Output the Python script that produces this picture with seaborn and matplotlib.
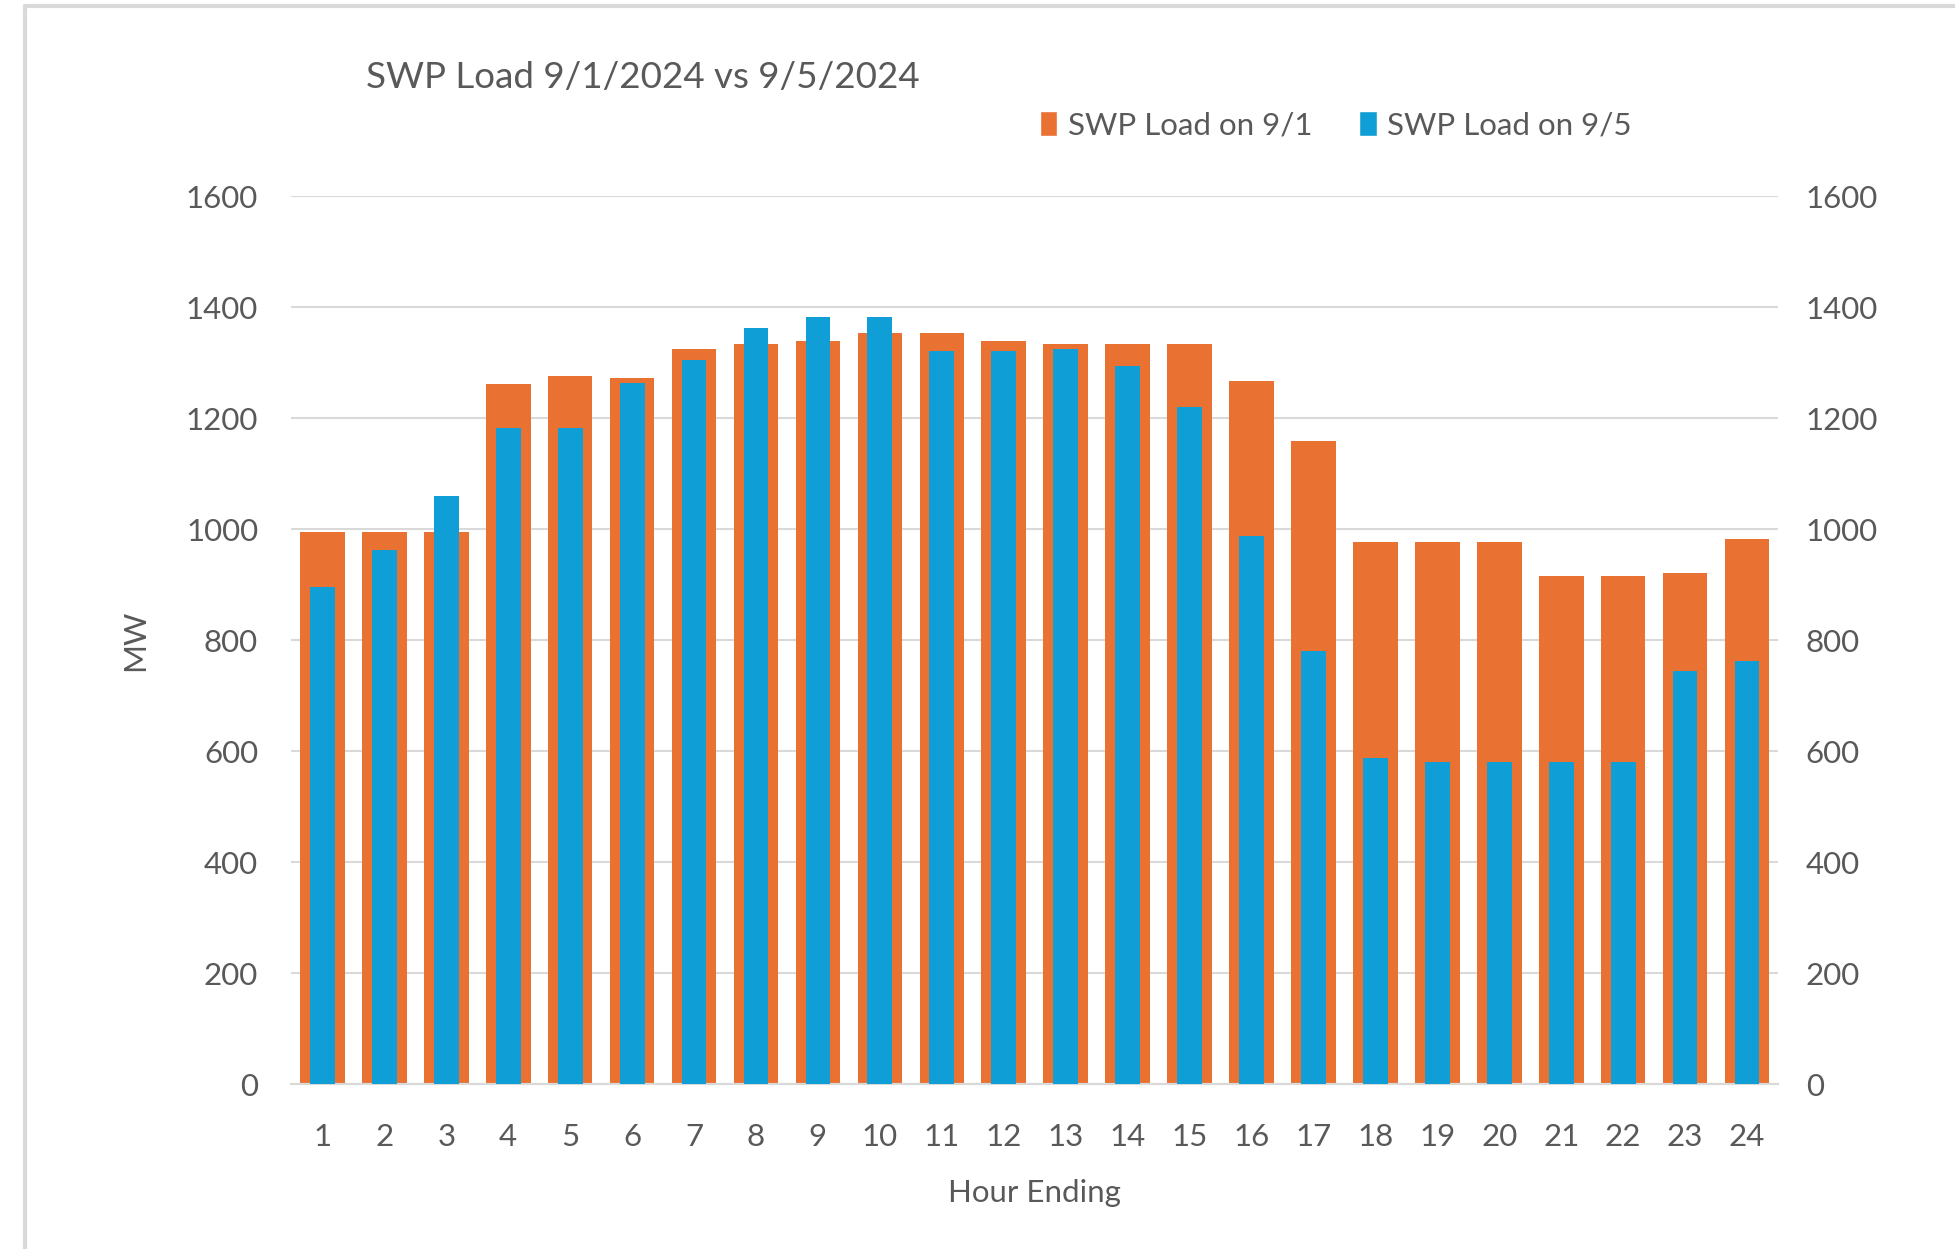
"""SWP load by hour ending, 9/1/2024 vs 9/5/2024 (overlapped bars, Excel style)."""

import matplotlib.pyplot as plt
from matplotlib.lines import Line2D
from matplotlib.patches import Rectangle
import seaborn as sns

# ── Data ─────────────────────────────────────────────────────────────────────

HOURS = [str(h) for h in range(1, 25)]
LOAD_SEP1 = [994, 994, 994, 1261, 1275, 1272, 1324, 1333, 1339, 1354, 1354, 1339,
             1333, 1333, 1333, 1267, 1159, 976, 976, 976, 916, 916, 921, 983]
LOAD_SEP5 = [895, 962, 1060, 1183, 1183, 1264, 1304, 1362, 1383, 1383, 1321, 1321,
             1325, 1293, 1220, 988, 780, 587, 581, 581, 581, 581, 744, 762]
Y_TICKS = [0, 200, 400, 600, 800, 1000, 1200, 1400, 1600]

SERIES_1 = "SWP Load on 9/1"
SERIES_5 = "SWP Load on 9/5"
TITLE = "SWP Load 9/1/2024 vs 9/5/2024"

ORANGE = "#E97132"
BLUE = "#0F9ED5"
GRID = "#D9D9D9"
TEXT = "#595959"

# ── Figure ───────────────────────────────────────────────────────────────────

sns.set_style("white")
plt.rcParams["font.family"] = ["Lato", "DejaVu Sans"]

fig = plt.figure(figsize=(19.56, 12.49), dpi=100)
ax = fig.add_axes([0.149, 0.132, 0.760, 0.711])

# 9/1 on the primary axis (wide bars), 9/5 on the secondary axis (narrow bars)
sns.barplot(x=HOURS, y=LOAD_SEP1, color=ORANGE, width=0.72, saturation=1,
            linewidth=0, ax=ax, zorder=2)
ax2 = ax.twinx()
sns.barplot(x=HOURS, y=LOAD_SEP5, color=BLUE, width=0.40, saturation=1,
            linewidth=0, ax=ax2, zorder=3)

for a in (ax, ax2):
    a.set_ylim(0, 1600)
    a.set_yticks(Y_TICKS)
    a.set_yticklabels([str(t) for t in Y_TICKS])
    a.set_xlim(-0.5, len(HOURS) - 0.5)
    for side in ("top", "left", "right"):
        a.spines[side].set_visible(False)
    a.spines["bottom"].set_color(GRID)
    a.spines["bottom"].set_linewidth(1.5)
    a.tick_params(axis="both", length=0, labelsize=22.5, labelcolor=TEXT)
    a.set_ylabel("")

ax.yaxis.grid(True, color=GRID, linewidth=1.5, zorder=0)
ax.set_axisbelow(True)
ax.tick_params(axis="y", pad=24)
ax2.tick_params(axis="y", pad=20)
ax.tick_params(axis="x", pad=28)

ax.set_xlabel("Hour Ending", fontsize=22.5, color=TEXT, labelpad=20)
ax.set_ylabel("MW", fontsize=22.5, color=TEXT, labelpad=26)

fig.text(0.187, 0.938, TITLE, fontsize=26.5, color=TEXT, ha="left", va="center")

handles = [
    Rectangle((0, 0), 1, 1, facecolor=ORANGE),
    Rectangle((0, 0), 1, 1, facecolor=BLUE),
]
fig.legend(handles, [SERIES_1, SERIES_5], loc="center", bbox_to_anchor=(0.683, 0.900),
           ncol=2, frameon=False, fontsize=22.5, labelcolor=TEXT, handlelength=0.55,
           handleheight=0.9, handletextpad=0.35, columnspacing=1.5)

# Light grey frame of the original chart area (cropped at right and bottom)
fig.add_artist(Line2D([25 / 1956, 1.0], [1 - 6 / 1249, 1 - 6 / 1249],
                      transform=fig.transFigure, color=GRID, linewidth=3))
fig.add_artist(Line2D([25 / 1956, 25 / 1956], [0.0, 1 - 6 / 1249],
                      transform=fig.transFigure, color=GRID, linewidth=3))

fig.savefig("out.png", dpi=100)
